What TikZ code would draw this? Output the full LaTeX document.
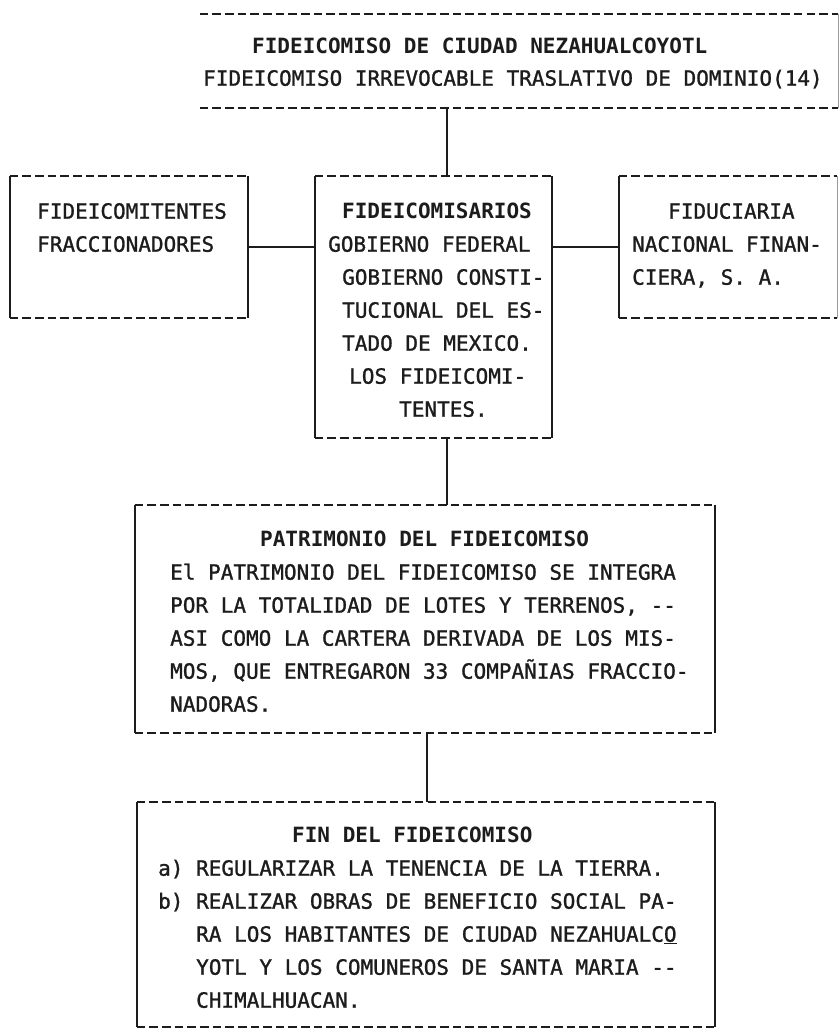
\documentclass[tikz,border=0pt]{standalone}
\usepackage{fontspec}
\newfontfamily\tw[FakeBold=1.2]{DejaVu Sans Mono}
\newfontfamily\twb{DejaVu Sans Mono Bold}
\definecolor{ink}{HTML}{1C1C1C}
\definecolor{faint}{HTML}{9A9A9A}
\newcommand\boxedges[1]{%
  \draw[hdash] (#1.north west) -- (#1.north east);
  \draw[hdash] (#1.south west) -- (#1.south east);
  \draw[vline] (#1.north west) -- (#1.south west);
  \draw[vline] (#1.north east) -- (#1.south east);}
\begin{document}
\begin{tikzpicture}[x=1pt,y=-1pt,
  box/.style={rectangle,inner sep=0pt,minimum width=#1},
  hdash/.style={ink,line width=1.8pt,dash pattern=on 8.6pt off 4.04pt},
  vline/.style={ink,line width=1.5pt},
  conn/.style={ink,line width=1.5pt},
  txt/.style={anchor=base west,inner sep=0pt,text=ink,font=\tw\fontsize{21}{33}\selectfont},
  ttl/.style={txt,font=\twb\fontsize{21}{33}\selectfont}]
\useasboundingbox (0,0) rectangle (838,1030);
\fill[white] (0,0) rectangle (838,1030);

% boxes
\node[box=638pt,minimum height=94pt] (top) at (519,61) {};
\node[box=238pt,minimum height=142pt] (fcm) at (129,247) {};
\node[box=237pt,minimum height=262pt] (fsa) at (433.5,307) {};
\node[box=218pt,minimum height=142pt] (fid) at (728,247) {};
\node[box=580pt,minimum height=228pt] (pat) at (425,619) {};
\node[box=578pt,minimum height=225pt] (fin) at (426,914.5) {};

% top box: only the typed lines and a faint right edge
\draw[hdash] (top.north west) -- (top.north east);
\draw[hdash] (top.south west) -- (top.south east);
\draw[faint,line width=1pt] (top.north east) -- (top.south east);
\boxedges{fcm}
\boxedges{fsa}
\draw[hdash] (fid.north west) -- (fid.north east);
\draw[hdash] (fid.south west) -- (fid.south east);
\draw[vline] (fid.north west) -- (fid.south west);
\draw[faint,line width=1pt] (fid.north east) -- (fid.south east);
\boxedges{pat}
\boxedges{fin}

% connectors
\coordinate (u1) at (447,0);
\coordinate (u2) at (427,0);
\draw[conn] (u1 |- top.south) -- (u1 |- fsa.north);
\draw[conn] (fcm.east) -- (fcm.east -| fsa.west);
\draw[conn] (fid.west) -- (fid.west -| fsa.east);
\draw[conn] (u1 |- fsa.south) -- (u1 |- pat.north);
\draw[conn] (u2 |- pat.south) -- (u2 |- fin.north);

% texts
\node[ttl] (t1) at (252,53.7) {FIDEICOMISO DE CIUDAD NEZAHUALCOYOTL};
\node[txt] (t2) at (203,85.7) {FIDEICOMISO IRREVOCABLE TRASLATIVO DE DOMINIO(14)};

\node[txt] (c1) at (37,218.7) {FIDEICOMITENTES};
\node[txt] (c2) at (37,251.7) {FRACCIONADORES};

\node[ttl] (s1) at (342,218.7) {FIDEICOMISARIOS};
\node[txt] (s2) at (328,251.7) {GOBIERNO FEDERAL};
\node[txt] (s3) at (342,284.7) {GOBIERNO CONSTI-};
\node[txt] (s4) at (342,317.7) {TUCIONAL DEL ES-};
\node[txt] (s5) at (342,350.7) {TADO DE MEXICO.};
\node[txt] (s6) at (349,383.7) {LOS FIDEICOMI-};
\node[txt] (s7) at (399,416.7) {TENTES.};

\node[txt] (f1) at (668,218.7) {FIDUCIARIA};
\node[txt] (f2) at (632,251.7) {NACIONAL FINAN-};
\node[txt] (f3) at (632,284.7) {CIERA, S. A.};

\node[ttl] (p0) at (260,546.7) {PATRIMONIO DEL FIDEICOMISO};
\node[txt] (p1) at (170,579.7) {El PATRIMONIO DEL FIDEICOMISO SE INTEGRA};
\node[txt] (p2) at (170,612.7) {POR LA TOTALIDAD DE LOTES Y TERRENOS, --};
\node[txt] (p3) at (170,645.7) {ASI COMO LA CARTERA DERIVADA DE LOS MIS-};
\node[txt] (p4) at (170,678.7) {MOS, QUE ENTREGARON 33 COMPAÑIAS FRACCIO-};
\node[txt] (p5) at (170,711.7) {NADORAS.};

\node[ttl] (n0) at (292,842.7) {FIN DEL FIDEICOMISO};
\node[txt] (n1) at (158,875.7) {a) REGULARIZAR LA TENENCIA DE LA TIERRA.};
\node[txt] (n2) at (158,908.7) {b) REALIZAR OBRAS DE BENEFICIO SOCIAL PA-};
\node[txt] (n3) at (196,941.7) {RA LOS HABITANTES DE CIUDAD NEZAHUALC\underline{O}};
\node[txt] (n4) at (196,974.7) {YOTL Y LOS COMUNEROS DE SANTA MARIA --};
\node[txt] (n5) at (196,1007.7) {CHIMALHUACAN.};
\end{tikzpicture}
\end{document}
